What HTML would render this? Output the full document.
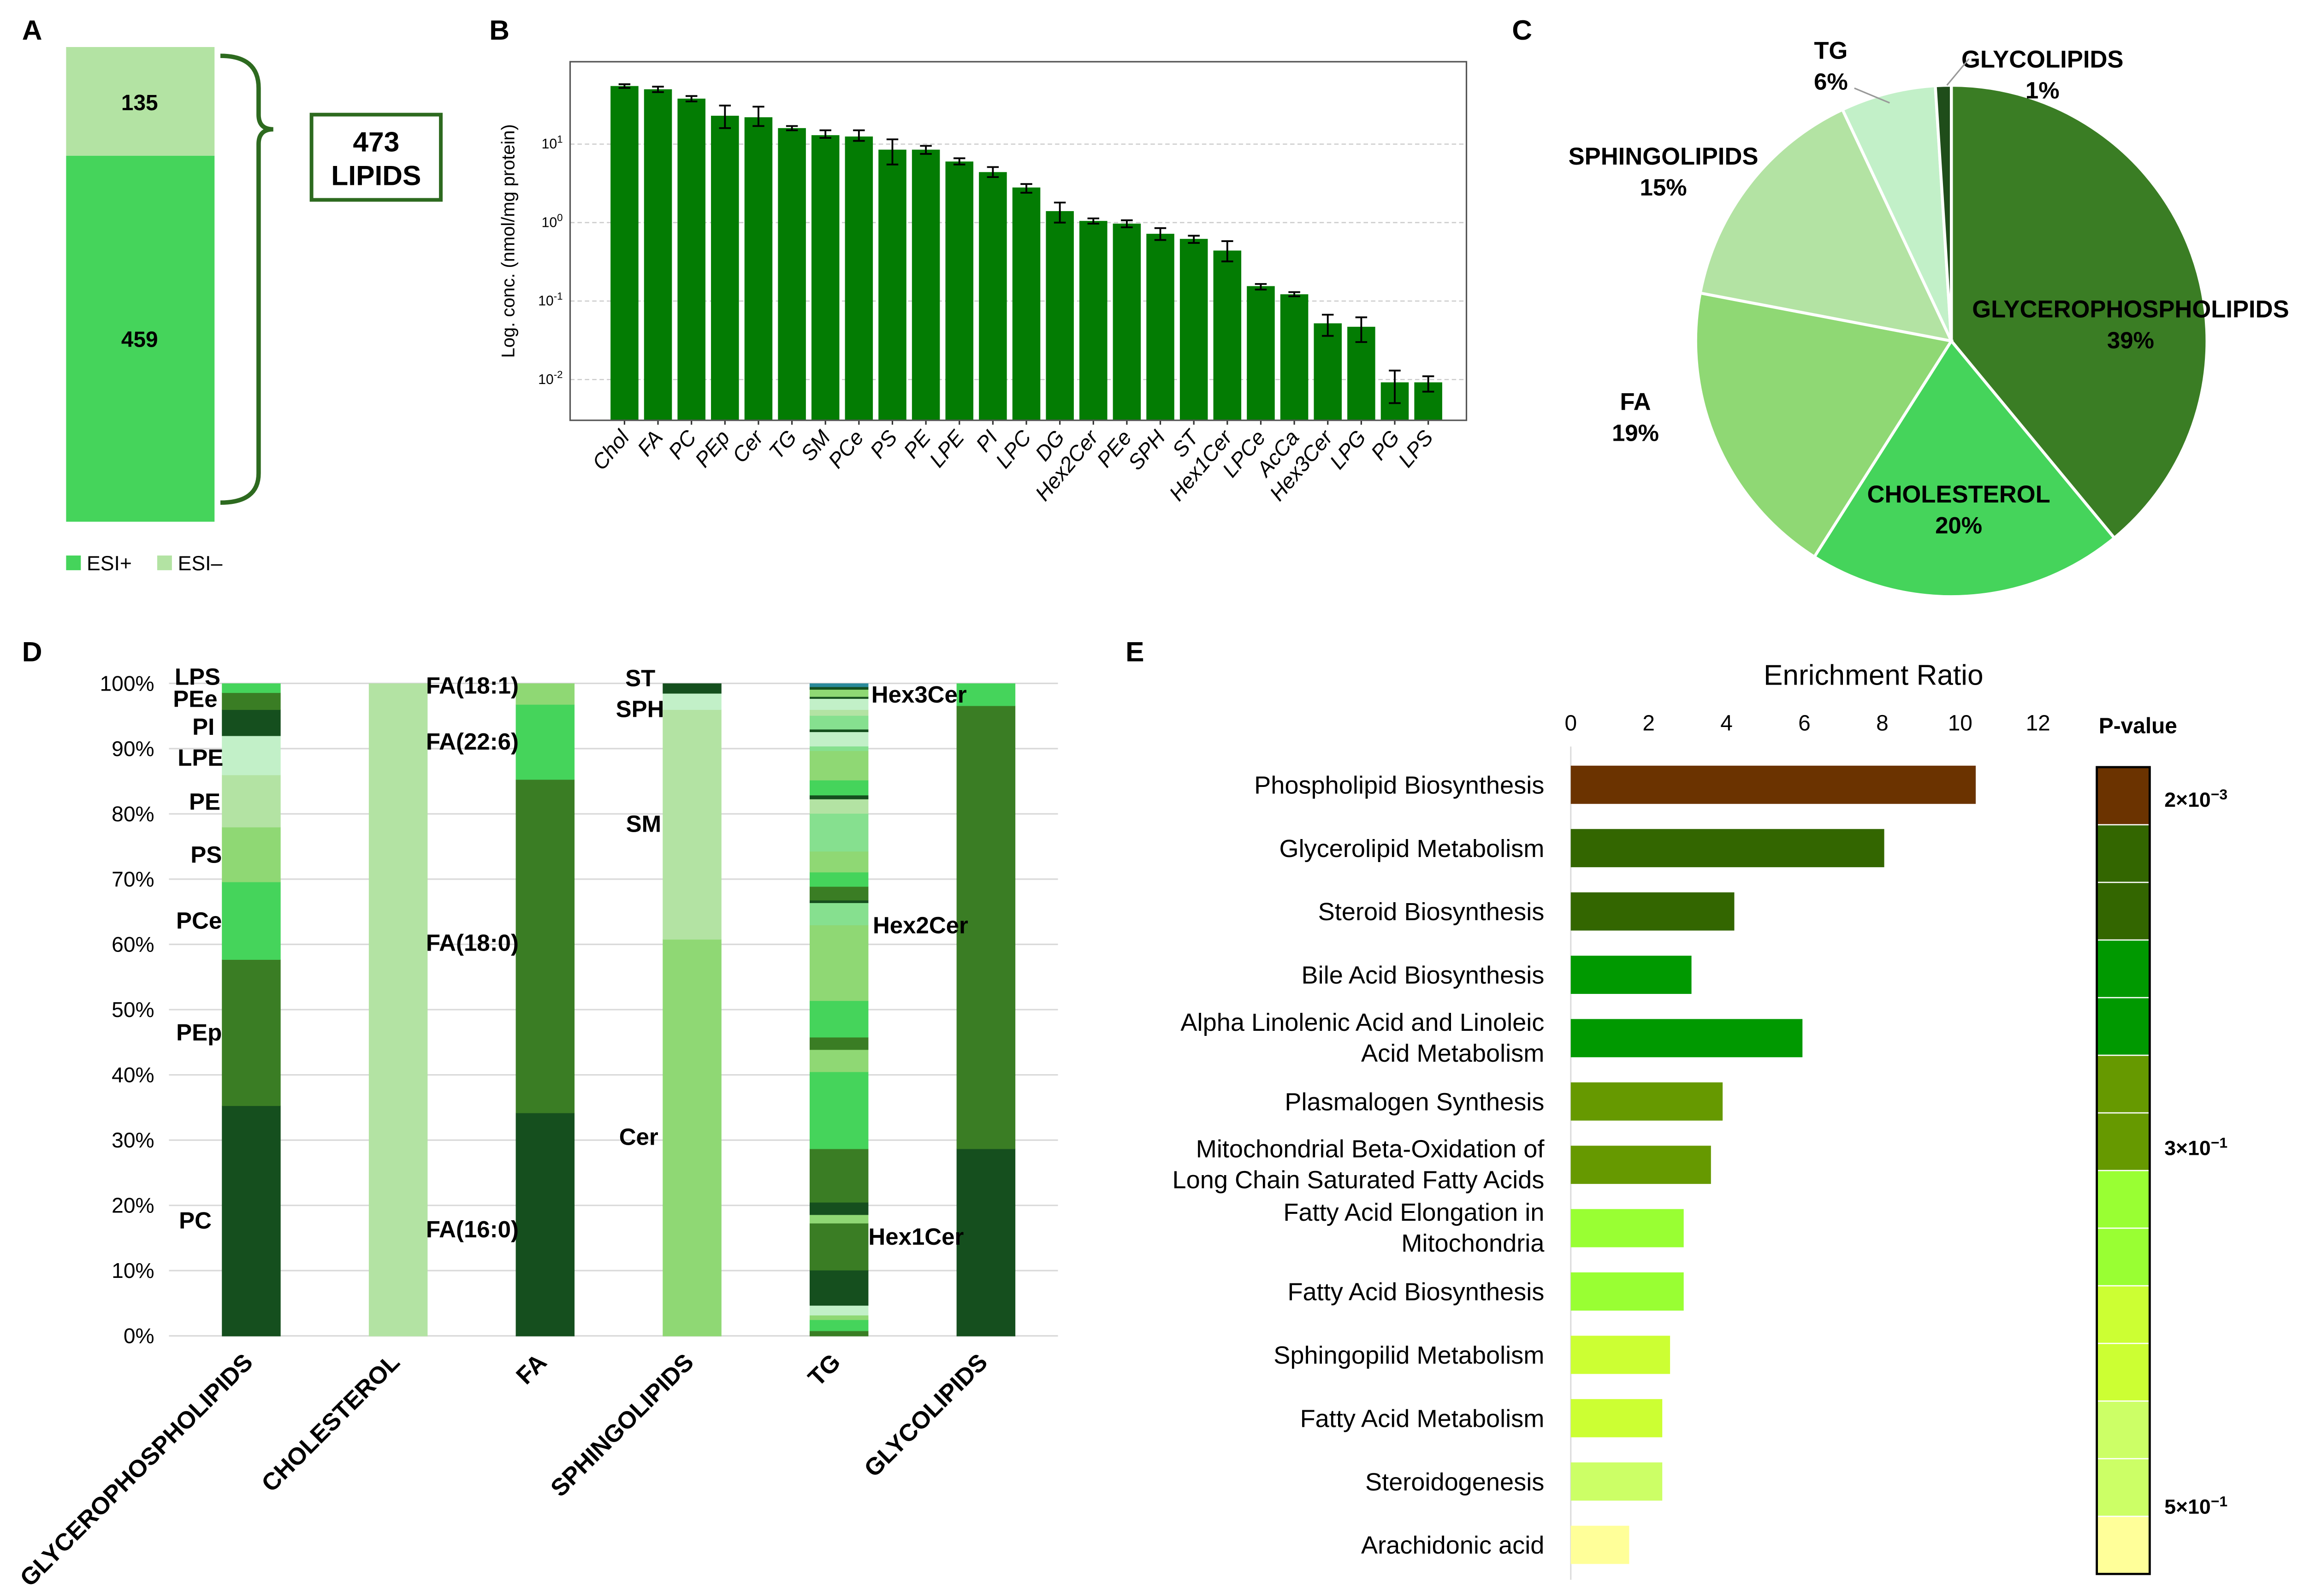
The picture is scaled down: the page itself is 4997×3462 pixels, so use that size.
<!DOCTYPE html>
<html><head><meta charset="utf-8"><style>
html,body{margin:0;padding:0;background:#fff}
svg{display:block}
text{font-family:"Liberation Sans",sans-serif}
</style></head><body>
<svg id="fig" width="4997" height="3462" viewBox="0 0 1568 1086" preserveAspectRatio="none" xmlns="http://www.w3.org/2000/svg">
<rect width="1568" height="1086" fill="#fff"/>
<g font-weight="bold" font-size="19" fill="#000">
<text x="15" y="27">A</text>
<text x="333" y="27">B</text>
<text x="1029" y="27">C</text>
<text x="15" y="450">D</text>
<text x="766" y="450">E</text>
</g>
<g>
<rect x="45" y="32" width="101" height="74" fill="#b3e3a3"/>
<rect x="45" y="106" width="101" height="249" fill="#45d45b"/>
<text x="95" y="75" text-anchor="middle" font-weight="bold" font-size="15">135</text>
<text x="95" y="236" text-anchor="middle" font-weight="bold" font-size="15">459</text>
<path d="M150,38 Q176,38 176,60 L176,78 Q176,88 186,88 Q176,88 176,98 L176,322 Q176,342 150,342" fill="none" stroke="#2d6a1f" stroke-width="3"/>
<rect x="212" y="78" width="88" height="58" fill="#fff" stroke="#2d6a1f" stroke-width="2.5"/>
<text x="256" y="103" text-anchor="middle" font-weight="bold" font-size="19">473</text>
<text x="256" y="126" text-anchor="middle" font-weight="bold" font-size="19">LIPIDS</text>
<rect x="45" y="378" width="10" height="10" fill="#45d45b"/>
<text x="59" y="388" font-size="14">ESI+</text>
<rect x="107" y="378" width="10" height="10" fill="#b3e3a3"/>
<text x="121" y="388" font-size="14">ESI–</text>
</g>
<g id="panelB"></g>
<g id="panelC"></g>
<g id="panelD"></g>
<g id="panelE"></g>
</svg>
<script>
const NS="http://www.w3.org/2000/svg";
function mk(parent,tag,attrs,txt){const e=document.createElementNS(NS,tag);for(const k in attrs)e.setAttribute(k,attrs[k]);if(txt!==undefined)e.textContent=txt;parent.appendChild(e);return e;}

const bCategories=["Chol","FA","PC","PEp","Cer","TG","SM","PCe","PS","PE","LPE","PI","LPC","DG","Hex2Cer","PEe","SPH","ST","Hex1Cer","LPCe","AcCa","Hex3Cer","LPG","PG","LPS"];
const bValues=[55,50,38,23,22,16,13,12.5,8.5,8.5,6,4.4,2.8,1.4,1.05,0.97,0.72,0.62,0.44,0.155,0.122,0.052,0.047,0.0092,0.0092];
const bErrLow=[52,46,35,16,17,15,12,11,5.5,7.5,5.5,3.8,2.4,1.0,0.97,0.87,0.6,0.55,0.32,0.14,0.115,0.036,0.03,0.005,0.007];
const bErrHigh=[58,54,41,31,30,17,15,15,11.5,9.5,6.6,5.1,3.1,1.8,1.13,1.07,0.85,0.68,0.58,0.165,0.13,0.067,0.062,0.013,0.011];
const bTicks=[1,0,-1,-2];

const cLabels=["GLYCEROPHOSPHOLIPIDS","CHOLESTEROL","FA","SPHINGOLIPIDS","TG","GLYCOLIPIDS"];
const cValues=[39,20,19,15,6,1];

const dCategories=["GLYCEROPHOSPHOLIPIDS","CHOLESTEROL","FA","SPHINGOLIPIDS","TG","GLYCOLIPIDS"];
const dGP=[35.3,22.4,11.9,8.4,8,6,4,2.6,1.4];
const dChol=[100];
const dFA=[34.2,51.1,11.5,3.2];
const dSph=[60.8,35.2,2.5,1.5];
const dTG=[0.8,1.7,0.7,1.5,5.4,7.2,1.3,1.9,8.2,11.8,3.4,1.9,5.6,11.6,3.4,0.4,2.1,2.2,3.2,5.8,2.2,0.6,2.3,4.5,0.7,2.2,0.4,2.1,0.9,1.7,0.3,1.1,0.4,0.5];
const dGly=[28.7,67.9,3.4];
const dTicks=[0,10,20,30,40,50,60,70,80,90,100];

const ePathways=[["Phospholipid Biosynthesis"],["Glycerolipid Metabolism"],["Steroid Biosynthesis"],["Bile Acid Biosynthesis"],["Alpha Linolenic Acid and Linoleic","Acid Metabolism"],["Plasmalogen Synthesis"],["Mitochondrial Beta-Oxidation of","Long Chain Saturated Fatty Acids"],["Fatty Acid Elongation in","Mitochondria"],["Fatty Acid Biosynthesis"],["Sphingopilid Metabolism"],["Fatty Acid Metabolism"],["Steroidogenesis"],["Arachidonic acid"]];
const eValues=[10.4,8.05,4.2,3.1,5.95,3.9,3.6,2.9,2.9,2.55,2.35,2.35,1.5];
const eTicks=[0,2,4,6,8,10,12];
const eBarColors=["#6b3300","#336600","#336600","#009900","#009900","#669900","#669900","#99ff33","#99ff33","#ccff33","#ccff33","#ccff66","#ffff99"];
const eScaleColors=["#6b3300","#336600","#336600","#009900","#009900","#669900","#669900","#99ff33","#99ff33","#ccff33","#ccff33","#ccff66","#ccff66","#ffff99"];

(function(){
 const g=document.getElementById('panelB');
 const L=388,R=998,T=42,B=286;
 const yTop=2.05,yBot=-2.52;
 const y=v=>T+(yTop-Math.log10(v))/(yTop-yBot)*(B-T);
 const x0=425,step=(972-425)/(bCategories.length-1);
 const x=i=>x0+i*step;
 bTicks.forEach(t=>{
  const yy=y(Math.pow(10,t));
  const gl=mk(g,'line',{x1:L,x2:R,y1:yy,y2:yy,stroke:'#ccc','stroke-dasharray':'3,2','stroke-width':0.8});
  
  
  const tl=mk(g,'text',{x:L-5,y:yy+3,'text-anchor':'end','font-size':9.5},'10');
  
  
  mk(tl,'tspan',{dy:-4,'font-size':7},String(t));
 });
 bValues.forEach((v,i)=>{
  const r=mk(g,'rect',{x:x(i)-9.5,y:y(v),width:19,height:B-y(v),fill:'#037c03'});
  
  
  const e=mk(g,'path',{d:`M${x(i)},${y(bErrLow[i])}V${y(bErrHigh[i])}M${x(i)-4},${y(bErrLow[i])}H${x(i)+4}M${x(i)-4},${y(bErrHigh[i])}H${x(i)+4}`,stroke:'#000','stroke-width':1.2,fill:'none'});
  
  
  mk(g,'line',{x1:x(i),x2:x(i),y1:B,y2:B+3,stroke:'#333'});
  const tx=mk(g,'text',{x:x(i)+4,y:B+12,'text-anchor':'end','font-size':14.5,'font-style':'italic',transform:`rotate(-50 ${x(i)+4} ${B+12})`},bCategories[i]);
  
  
 });
 const fr=mk(g,'rect',{x:L,y:T,width:R-L,height:B-T,fill:'none',stroke:'#555','stroke-width':1});
 
 
 const yl=mk(g,'text',{x:350,y:164,'text-anchor':'middle','font-size':12.5,transform:'rotate(-90 350 164)','font-family':'DejaVu Sans'},'Log. conc. (nmol/mg protein)');
 
 
})();

(function(){
 const g=document.getElementById('panelC');
 const cx=1328,cy=232,r=174;
 const colors=["#3a7d24","#45d45b","#8fd874","#b3e3a3","#c2f0c8","#1f4d1a"];
 const tot=cValues.reduce((a,b)=>a+b,0);
 let a=0;
 const pt=(ang,rr)=>[cx+rr*Math.sin(ang),cy-rr*Math.cos(ang)];
 cValues.forEach((v,i)=>{
  const a1=a+v/tot*2*Math.PI;
  const p0=pt(a,r),p1=pt(a1,r);
  const s=mk(g,'path',{d:`M${cx},${cy}L${p0[0]},${p0[1]}A${r},${r} 0 ${a1-a>Math.PI?1:0} 1 ${p1[0]},${p1[1]}Z`,fill:colors[i],stroke:'#fff','stroke-width':2});
  
  
  a=a1;
 });
 const lab=[[1450,216],[1333,342],[1113,279],[1132,112],[1246,40],[1390,46]];
 cLabels.forEach((l,i)=>{
  const t=mk(g,'text',{x:lab[i][0],y:lab[i][1],'text-anchor':'middle','font-weight':'bold','font-size':16.5},l);
  
  
  const p=mk(g,'text',{x:lab[i][0],y:lab[i][1]+21,'text-anchor':'middle','font-weight':'bold','font-size':16},cValues[i]+'%');
  
  
 });
 mk(g,'path',{d:'M1262,60 L1286,70',stroke:'#999',fill:'none'});
 mk(g,'path',{d:'M1340,40 L1325,58',stroke:'#999',fill:'none'});
})();

(function(){
 const g=document.getElementById('panelD');
 const T=465,B=909,L=115,R=720;
 const y=p=>B-p/100*(B-T);
 dTicks.forEach(t=>{
  const gl=mk(g,'line',{x1:L,x2:R,y1:y(t),y2:y(t),stroke:'#d9d9d9','stroke-width':1});
  
  
  const tl=mk(g,'text',{x:105,y:y(t)+5,'text-anchor':'end','font-size':14.5},t+'%');
  
  
 });
 const C={dk:'#154f1e',md:'#3a7d24',br:'#45d45b',lt:'#8fd874',pl:'#b3e3a3',vp:'#c2f0c8',mi:'#86e08f',te:'#2a8a9a'};
 const series=[
  [dGP,[C.dk,C.md,C.br,C.lt,C.pl,C.vp,C.dk,C.md,C.br]],
  [dChol,[C.pl]],
  [dFA,[C.dk,C.md,C.br,C.lt]],
  [dSph,[C.lt,C.pl,C.vp,C.dk]],
  [dTG,[C.md,C.br,C.lt,C.vp,C.dk,C.md,C.lt,C.dk,C.md,C.br,C.lt,C.md,C.br,C.lt,C.mi,C.dk,C.md,C.br,C.lt,C.mi,C.pl,C.dk,C.br,C.lt,C.mi,C.vp,C.dk,C.mi,C.pl,C.vp,C.dk,C.lt,C.dk,C.te]],
  [dGly,[C.dk,C.md,C.br]]
 ];
 const xc=i=>171+i*100;
 series.forEach(([vals,cols],i)=>{
  const tot=vals.reduce((a,b)=>a+b,0);
  let c=0;
  vals.forEach((v,j)=>{
   const p0=c/tot*100,p1=(c+v)/tot*100;
   const r=mk(g,'rect',{x:xc(i)-20,y:y(p1),width:40,height:y(p0)-y(p1)+0.3,fill:cols[j%cols.length]});
   
   
   c+=v;
  });
  const tl=mk(g,'text',{x:xc(i)+2,y:928,'text-anchor':'end','font-weight':'bold','font-size':16.5,transform:`rotate(-45 ${xc(i)+2} 928)`},dCategories[i]);
  
  
 });
 const labels=[["LPS",150,466,'end'],["PEe",148,481,'end'],["PI",146,500,'end'],["LPE",152,521,'end'],["PE",150,551,'end'],["PS",151,587,'end'],["PCe",151,632,'end'],["PEp",151,708,'end'],["PC",144,836,'end'],
 ["FA(18:1)",353,472,'end'],["FA(22:6)",353,510,'end'],["FA(18:0)",353,647,'end'],["FA(16:0)",353,842,'end'],
 ["ST",446,467,'end'],["SPH",452,488,'end'],["SM",450,566,'end'],["Cer",448,779,'end'],
 ["Hex3Cer",593,478,'start'],["Hex2Cer",594,635,'start'],["Hex1Cer",591,847,'start']];
 labels.forEach(l=>{
  const t=mk(g,'text',{x:l[1],y:l[2],'text-anchor':l[3],'font-weight':'bold','font-size':16},l[0]);
  
  
 });
})();

(function(){
 const g=document.getElementById('panelE');
 const x0=1069,ux=(1387-1069)/12;
 const x=v=>x0+v*ux;
 const yc=i=>534+i*43.1;
 const tt=mk(g,'text',{x:1275,y:466,'text-anchor':'middle','font-size':19.5},'Enrichment Ratio');
 
 
 eTicks.forEach(t=>{
  const tl=mk(g,'text',{x:x(t),y:497,'text-anchor':'middle','font-size':15},String(t));
  
  
 });
 mk(g,'line',{x1:x0,x2:x0,y1:508,y2:1075,stroke:'#ddd','stroke-width':1});
 eValues.forEach((v,i)=>{
  const r=mk(g,'rect',{x:x0,y:yc(i)-13,width:x(v)-x0,height:26,fill:eBarColors[i]});
  
  
  const lines=ePathways[i];
  lines.forEach((s,k)=>{
   const dy=lines.length===1?6:(k===0?-5:16);
   const t=mk(g,'text',{x:1051,y:yc(i)+dy,'text-anchor':'end','font-size':17},s);
   
   
  });
 });
 const pv=mk(g,'text',{x:1455,y:499,'text-anchor':'middle','font-weight':'bold','font-size':15},'P-value');
 
 
 const top=522,bot=1071,h=(bot-top)/eScaleColors.length;
 eScaleColors.forEach((c,i)=>{
  const r=mk(g,'rect',{x:1427,y:top+i*h,width:36,height:h,fill:c,stroke:'#fff','stroke-width':0.8});
  
  
 });
 const bd=mk(g,'rect',{x:1427,y:top,width:36,height:bot-top,fill:'none',stroke:'#000','stroke-width':1.5});
 
 
 [["2×10","−3",549],["3×10","−1",786],["5×10","−1",1030]].forEach(l=>{
  const t=mk(g,'text',{x:1473,y:l[2],'font-weight':'bold','font-size':14},l[0]);
  mk(t,'tspan',{dy:-5,'font-size':10},l[1]);
  
  
 });
})();
</script>
</body></html>
